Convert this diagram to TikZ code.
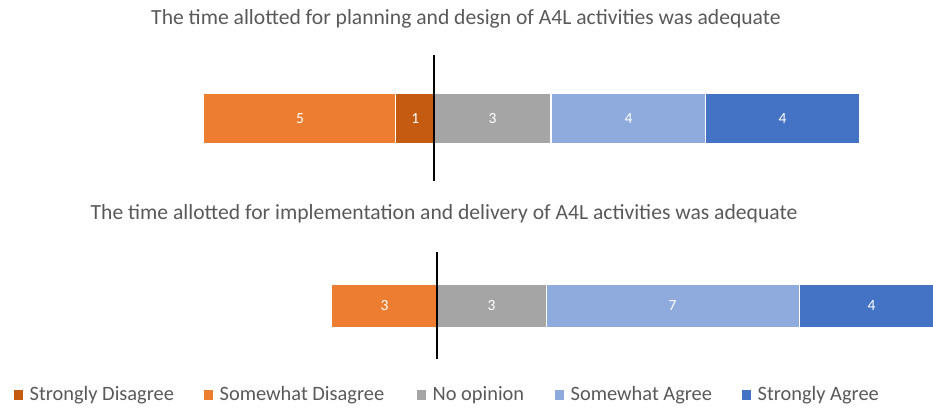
\documentclass[tikz,border=0pt]{standalone}
\usepackage{fontspec}
\setmainfont{Carlito}
\usetikzlibrary{positioning}
\definecolor{sdis}{HTML}{C55A11}
\definecolor{wdis}{HTML}{ED7D31}
\definecolor{nopin}{HTML}{A5A5A5}
\definecolor{wagr}{HTML}{8FAADC}
\definecolor{sagr}{HTML}{4472C4}
\definecolor{txtgrey}{HTML}{595959}
\begin{document}
\begin{tikzpicture}[x=1pt,y=-1pt,
	seg/.style={draw=white,line width=1pt,inner sep=0pt,text=white,font=\fontsize{15.5}{16}\selectfont},
	title/.style={text=txtgrey,font=\fontsize{21.6}{22}\selectfont},
	key/.style={inner sep=0pt,minimum size=9.5pt},
	keytext/.style={text=txtgrey,font=\fontsize{20.4}{21}\selectfont,inner sep=0pt}]
\useasboundingbox (0,0) rectangle (933,407);
% first question
\node[title] (tplan) at (466,19) {The time allotted for planning and design of A4L activities was adequate};
\node[seg,fill=wdis,minimum width=193pt,minimum height=50pt] (p5) at (300,118.5) {5};
\node[seg,fill=sdis,minimum width=38.5pt,minimum height=50pt] (p1) at (415.2,118.5) {1};
\node[seg,fill=nopin,minimum width=116pt,minimum height=50pt] (p3) at (492.5,118.5) {3};
\node[seg,fill=wagr,minimum width=155pt,minimum height=50pt] (p4a) at (628.5,118.5) {4};
\node[seg,fill=sagr,minimum width=154pt,minimum height=50pt] (p4b) at (782.5,118.5) {4};
\coordinate (ptop) at (434,55);
\coordinate (pbot) at (434,181);
\draw[line width=1.4pt] (ptop) -- (pbot);
% second question
\node[title] (timpl) at (444,214) {The time allotted for implementation and delivery of A4L activities was adequate};
\node[seg,fill=wdis,minimum width=106pt,minimum height=43pt] (i3a) at (384.5,306) {3};
\node[seg,fill=nopin,minimum width=109pt,minimum height=43pt] (i3b) at (491.5,306) {3};
\node[seg,fill=wagr,minimum width=253pt,minimum height=43pt] (i7) at (672.5,306) {7};
\node[seg,fill=sagr,minimum width=145pt,minimum height=43pt] (i4) at (871.5,306) {4};
\coordinate (itop) at (437,252);
\coordinate (ibot) at (437,359);
\draw[line width=1.4pt] (itop) -- (ibot);
% legend
\node[key,fill=sdis] (k1) at (18.5,395) {};
\node[keytext,right=6pt of k1] (l1) {Strongly Disagree};
\node[key,fill=wdis] (k2) at (208.5,395) {};
\node[keytext,right=6pt of k2] (l2) {Somewhat Disagree};
\node[key,fill=nopin] (k3) at (421.5,395) {};
\node[keytext,right=6pt of k3] (l3) {No opinion};
\node[key,fill=wagr] (k4) at (559.5,395) {};
\node[keytext,right=6pt of k4] (l4) {Somewhat Agree};
\node[key,fill=sagr] (k5) at (746.5,395) {};
\node[keytext,right=6pt of k5] (l5) {Strongly Agree};
\end{tikzpicture}
\end{document}
